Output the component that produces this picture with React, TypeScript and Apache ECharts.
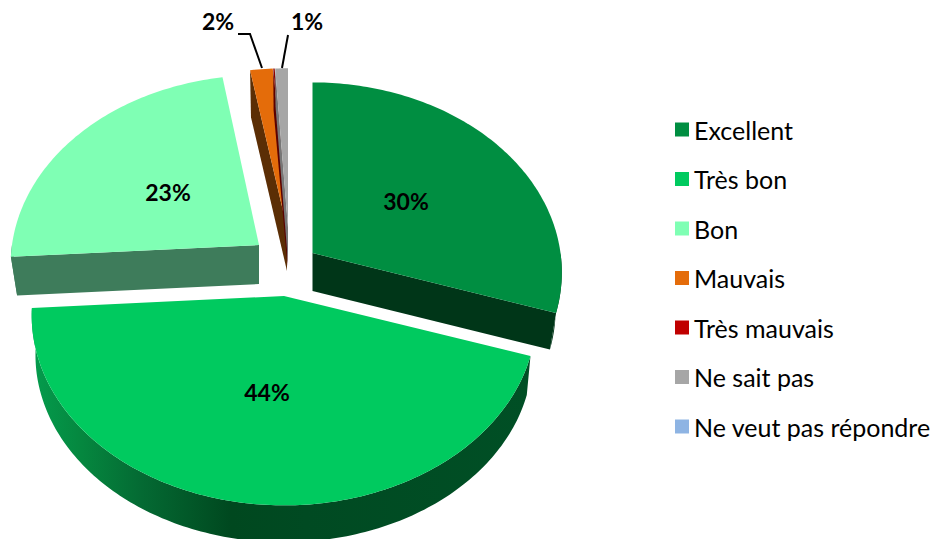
import React, { useEffect, useRef } from "react";
import * as echarts from "echarts";

const categories = ["Excellent", "Très bon", "Bon", "Mauvais", "Très mauvais", "Ne sait pas", "Ne veut pas répondre"];
const values = [30, 44, 23.4, 1.6, 0.1, 0.9, 0];
const topColors = ["#008E41", "#00CA5F", "#7FFFB4", "#E46C0A", "#8A0000", "#A6A6A6", "#8EB4E3"];
const legendColors = ["#008E41", "#00CA5F", "#7FFFB4", "#E46C0A", "#C00000", "#A6A6A6", "#8EB4E3"];
const wallColors = ["#003618", "#004A22", "#3E7C5B", "#5B2E05", "#5A0000", "#777777", "#8EB4E3"];

// Projection layout of each exploded slice
const apexX = [312.5, 284, 259, 287, 287.5, 288, 288];
const apexY = [253, 296, 245, 228, 228, 228, 228];
const radiusX = [248, 251, 247, 250, 250, 250, 250];
const radiusY = [188, 188, 187, 176, 176, 176, 176];
const depths = [38, 40, 39, 43, 38, 34, 34];
const depthShrinks = [0.975, 0.985, 0.975, 0.975, 0.975, 0.975, 0.975];
const labelX = [406, 267, 168, 218, -99, 307, -99];
const labelY = [201, 392, 192, 21, -99, 21, -99];
const drawOrder = [2, 3, 4, 5, 6, 0, 1];
const perspective = 0.102;

const total = values.reduce((a, b) => a + b, 0);
const starts: number[] = [];
values.reduce((acc, v, i) => {
  starts[i] = (acc / total) * 360;
  return acc + v;
}, 0);

function top(i: number, deg: number): number[] {
  const t = (deg * Math.PI) / 180;
  const u = Math.sin(t);
  const v = -Math.cos(t);
  const s = 1 / (1 - perspective * v);
  return [apexX[i] + radiusX[i] * u * s, apexY[i] + radiusY[i] * v * s];
}

function bottom(i: number, p: number[]): number[] {
  const k = depthShrinks[i];
  return [apexX[i] + (p[0] - apexX[i]) * k, apexY[i] + (p[1] - apexY[i]) * k + depths[i]];
}

function arc(i: number, a: number, b: number): number[][] {
  const pts: number[][] = [];
  const n = Math.max(2, Math.ceil(Math.abs(b - a)));
  for (let k = 0; k <= n; k++) pts.push(top(i, a + ((b - a) * k) / n));
  return pts;
}

function polygon(points: number[][], fill: any) {
  return { type: "polygon", shape: { points }, style: { fill, stroke: "none" } };
}

function makeRenderItem(i: number) {
  return (_params: any, api: any) => {
    const value = api.value(0) as number;
    const children: any[] = [];
    if (value > 0) {
      const a0 = starts[i];
      const a1 = a0 + (value / total) * 360;
      const apex = [apexX[i], apexY[i]];
      const apexB = bottom(i, apex);
      const lo = Math.max(a0, 90);
      const hi = Math.min(a1, 270);
      if (hi > lo) {
        const rim = arc(i, lo, hi);
        const fill =
          i === 1
            ? new echarts.graphic.LinearGradient(0, 0, 1, 0, [
                { offset: 0, color: "#049C4D" },
                { offset: 0.1, color: "#05873F" },
                { offset: 0.22, color: "#046A33" },
                { offset: 0.4, color: "#00481F" },
                { offset: 0.55, color: "#004A22" },
                { offset: 1, color: "#004F25" },
              ])
            : wallColors[i];
        children.push(polygon([...rim, ...rim.map((p) => bottom(i, p)).reverse()], fill));
      }
      if (a0 > 180) {
        const p = top(i, a0);
        children.push(polygon([apex, p, bottom(i, p), apexB], wallColors[i]));
      }
      if (a1 < 180) {
        const p = top(i, a1);
        children.push(polygon([apex, p, bottom(i, p), apexB], wallColors[i]));
      }
      children.push(polygon([apex, ...arc(i, a0, a1)], topColors[i]));
      if (Math.round(value) > 0) {
        children.push({
          type: "text",
          z2: 10,
          style: {
            x: labelX[i],
            y: labelY[i],
            text: Math.round(value) + "%",
            fill: "#000",
            font: "bold 23px Lato",
            align: "center",
            verticalAlign: "middle",
          },
        });
      }
      if (i === 3) {
        children.push({
          type: "polyline",
          shape: { points: [[238, 34], [250, 34], [262, 68]] },
          style: { stroke: "#000", lineWidth: 2, fill: "none" },
        });
      }
      if (i === 5) {
        children.push({
          type: "line",
          shape: { x1: 288, y1: 35, x2: 282, y2: 68 },
          style: { stroke: "#000", lineWidth: 2 },
        });
      }
    }
    return { type: "group", children };
  };
}

export default function App() {
  const ref = useRef<HTMLDivElement>(null);
  useEffect(() => {
    document.body.style.margin = "0";
    const chart = echarts.init(ref.current!, undefined, { renderer: "svg" });
    chart.setOption({
      animation: false,
      backgroundColor: "#fff",
      tooltip: { show: false },
      legend: {
        orient: "vertical",
        left: 670,
        top: 112,
        icon: "rect",
        itemWidth: 14,
        itemHeight: 14,
        itemGap: 24.5,
        selectedMode: false,
        data: categories,
        textStyle: { color: "#000", fontFamily: "Lato", fontSize: 25, lineHeight: 24 },
      },
      series: drawOrder.map((i, order) => ({
        type: "custom",
        name: categories[i],
        coordinateSystem: "none",
        z: 2 + order,
        silent: true,
        itemStyle: { color: legendColors[i] },
        renderItem: makeRenderItem(i),
        data: [[values[i]]],
      })),
    });
    return () => chart.dispose();
  }, []);
  return <div ref={ref} style={{ position: "absolute", left: 0, top: 0, width: 935, height: 539 }} />;
}
